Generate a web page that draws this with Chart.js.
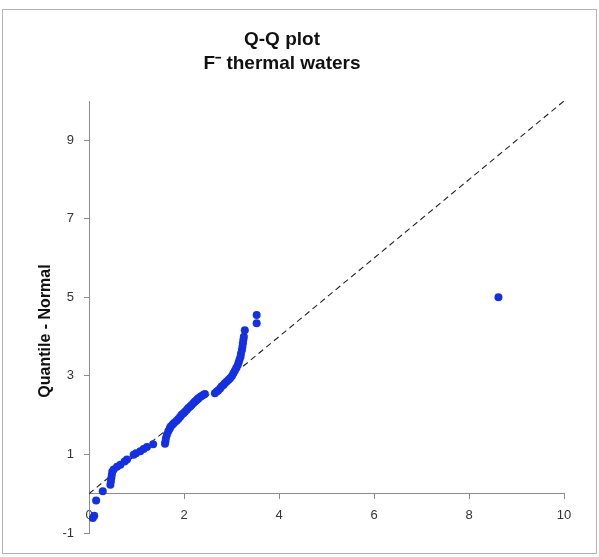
<!DOCTYPE html>
<html>
<head>
<meta charset="utf-8">
<script src="https://cdn.jsdelivr.net/npm/chart.js@4/dist/chart.umd.min.js"></script>
<style>
	html, body { margin: 0; padding: 0; background: #fff; }
	canvas { display: block; }
</style>
</head>
<body>
<canvas id="qqChart" width="599" height="557"></canvas>
<script>
// =================== DATA ===================
// measured fluoride values (x) against normal quantiles (y)
const fluorideValues = [
	0.08, 0.11, 0.15, 0.29, 0.45, 0.46, 0.47, 0.48, 0.49, 0.52,
	0.59, 0.66, 0.75, 0.8, 0.94, 0.99, 1.08, 1.15, 1.22, 1.35,
	1.6, 1.61, 1.62, 1.64, 1.67, 1.7, 1.72, 1.76, 1.79, 1.84,
	1.88, 1.92, 1.95, 1.99, 2.02, 2.06, 2.09, 2.13, 2.16, 2.2,
	2.23, 2.27, 2.3, 2.34, 2.37, 2.41, 2.44,
	2.65, 2.69, 2.72, 2.76, 2.79, 2.83, 2.86, 2.9, 2.94, 2.97,
	3.01, 3.04, 3.07, 3.1, 3.13, 3.15, 3.17, 3.19, 3.2, 3.22,
	3.23, 3.24, 3.25, 3.26, 3.28, 3.53, 3.53, 8.62,
];
const normalQuantiles = [
	-0.62, -0.56, -0.17, 0.06, 0.23, 0.32, 0.4, 0.48, 0.56, 0.62,
	0.69, 0.74, 0.82, 0.87, 0.99, 1.03, 1.08, 1.14, 1.19, 1.26,
	1.27, 1.33, 1.42, 1.5, 1.59, 1.66, 1.71, 1.76, 1.8, 1.85,
	1.9, 1.96, 2.01, 2.05, 2.09, 2.14, 2.18, 2.22, 2.26, 2.31,
	2.35, 2.39, 2.43, 2.46, 2.49, 2.52, 2.54,
	2.56, 2.6, 2.63, 2.68, 2.73, 2.77, 2.81, 2.86, 2.9, 2.94,
	3.0, 3.07, 3.13, 3.2, 3.27, 3.34, 3.42, 3.49, 3.57, 3.66,
	3.74, 3.83, 3.92, 4.0, 4.16, 4.34, 4.55, 5.0,
];

// 1:1 reference line
const refLineX = [0, 10];
const refLineY = [0, 10];

// axis ticks
const xTickValues = [0, 2, 4, 6, 8, 10];
const yTickValues = [-1, 1, 3, 5, 7, 9];

const titleLines = ["Q-Q plot", "F\u207B thermal waters"];
const yAxisTitle = "Quantile - Normal";

// =================== PLUGINS ===================
const frameAndAxisTitle = {
	id: "frameAndAxisTitle",
	beforeDraw(chart) {
		const { ctx } = chart;
		ctx.save();
		ctx.fillStyle = "#fff";
		ctx.fillRect(0, 0, chart.width, chart.height);
		ctx.strokeStyle = "#b4b4b4";
		ctx.lineWidth = 1;
		ctx.strokeRect(2.5, 9.5, 594, 544);
		ctx.restore();
	},
	afterDraw(chart) {
		const { ctx } = chart;
		ctx.save();
		ctx.translate(46, 331);
		ctx.rotate(-Math.PI / 2);
		ctx.font = "bold 16px 'Liberation Sans', Arial, sans-serif";
		ctx.fillStyle = "#111";
		ctx.textAlign = "center";
		ctx.textBaseline = "middle";
		ctx.fillText(yAxisTitle, 0, 0);
		ctx.restore();
	},
};

// =================== CHART ===================
const points = fluorideValues.map((x, i) => ({ x, y: normalQuantiles[i] }));
const refLine = refLineX.map((x, i) => ({ x, y: refLineY[i] }));

const tickFont = { family: "'Liberation Sans', Arial, sans-serif", size: 13 };

new Chart(document.getElementById("qqChart"), {
	type: "scatter",
	data: {
		datasets: [
			{
				label: "data",
				data: points,
				backgroundColor: "#1530e0",
				borderWidth: 0,
				pointRadius: 4,
				order: 1,
			},
			{
				type: "line",
				label: "reference",
				data: refLine,
				borderColor: "#222",
				borderWidth: 1.1,
				borderDash: [6, 4],
				pointRadius: 0,
				fill: false,
				order: 2,
			},
		],
	},
	options: {
		responsive: false,
		animation: false,
		devicePixelRatio: 1,
		layout: { padding: { left: 0, right: 35, top: 0, bottom: 24 } },
		plugins: {
			legend: { display: false },
			tooltip: { enabled: false },
			title: {
				display: true,
				text: titleLines,
				color: "#111",
				font: {
					family: "'Liberation Sans', Arial, sans-serif",
					size: 19,
					weight: "bold",
					lineHeight: 1.25,
				},
				padding: { top: 28, bottom: 25.5 },
			},
		},
		scales: {
			x: {
				type: "linear",
				position: { y: 0 },
				min: 0,
				max: 10,
				afterBuildTicks: (scale) => {
					scale.ticks = xTickValues.map((value) => ({ value }));
				},
				ticks: {
					color: "#333",
					font: tickFont,
					padding: 9,
					maxRotation: 0,
					autoSkip: false,
				},
				grid: {
					drawOnChartArea: false,
					tickLength: 5,
					color: "#8c8c8c",
				},
				border: { color: "#8c8c8c" },
			},
			y: {
				type: "linear",
				position: "left",
				min: -1,
				max: 10,
				afterBuildTicks: (scale) => {
					scale.ticks = yTickValues.map((value) => ({ value }));
				},
				afterFit: (scale) => {
					scale.width = 89;
				},
				ticks: {
					color: "#333",
					font: tickFont,
					padding: 10,
				},
				grid: {
					drawOnChartArea: false,
					tickLength: 5,
					color: "#8c8c8c",
				},
				border: { color: "#8c8c8c" },
			},
		},
	},
	plugins: [frameAndAxisTitle],
});
</script>
</body>
</html>
